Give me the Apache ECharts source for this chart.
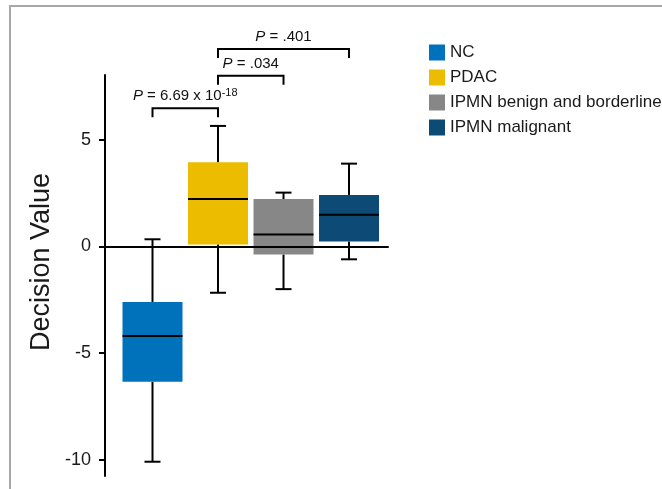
<!DOCTYPE html>
<html>
<head>
<meta charset="utf-8">
<script src="https://cdn.jsdelivr.net/npm/echarts@6/dist/echarts.min.js"></script>
<style>html,body{margin:0;padding:0;background:#fff}#c{width:662px;height:489px}</style>
</head>
<body>
<div id="c"></div>
<script>
// ---- data ----
const categories = ['NC', 'PDAC', 'IPMN benign and borderline', 'IPMN malignant'];
const colors = ['#0072bc', '#ebbc00', '#878787', '#0d4a75'];
// [min, Q1, median, Q3, max]
const nc = [-10.1, -6.35, -4.2, -2.6, 0.34];
const pdac = [-2.17, 0.1, 2.23, 3.95, 5.66];
const ipmnBenign = [-2.0, -0.37, 0.57, 2.23, 2.53];
const ipmnMalignant = [-0.6, 0.23, 1.49, 2.42, 3.89];
const boxValues = [nc, pdac, ipmnBenign, ipmnMalignant];
const yTicks = [-10, -5, 0, 5];
// comparisons: [fromCategoryIndex, toCategoryIndex, bracketLevel]
const comparisons = [[0, 1, 6.49], [1, 2, 8.02], [1, 3, 9.27]];
const pLabels = ['{i|P} = 6.69 x 10{sup|-18}', '{i|P} = .034', '{i|P} = .401'];

const FONT = 'Liberation Sans, Arial, sans-serif';
const chart = echarts.init(document.getElementById('c'), null, {renderer: 'canvas'});

const boxSeries = categories.map((name, i) => ({
  name: name,
  type: 'custom',
  z: 2,
  itemStyle: {color: colors[i]},
  encode: {x: 0, y: [1, 2, 3, 4, 5]},
  data: [[i + 1].concat(boxValues[i])],
  renderItem: function (params, api) {
    const x = api.value(0);
    const cx = api.coord([x, 0])[0];
    const yMin = api.coord([x, api.value(1)])[1];
    const yQ1 = api.coord([x, api.value(2)])[1];
    const yMed = api.coord([x, api.value(3)])[1];
    const yQ3 = api.coord([x, api.value(4)])[1];
    const yMax = api.coord([x, api.value(5)])[1];
    const hw = 30, cap = 8;
    const ls = {stroke: '#000', lineWidth: 2};
    return {
      type: 'group',
      children: [
        {type: 'line', shape: {x1: cx, y1: yMax, x2: cx, y2: yQ3}, style: ls},
        {type: 'line', shape: {x1: cx, y1: yQ1, x2: cx, y2: yMin}, style: ls},
        {type: 'line', shape: {x1: cx - cap, y1: yMax, x2: cx + cap, y2: yMax}, style: ls},
        {type: 'line', shape: {x1: cx - cap, y1: yMin, x2: cx + cap, y2: yMin}, style: ls},
        {type: 'rect', shape: {x: cx - hw, y: yQ3, width: 2 * hw, height: yQ1 - yQ3}, style: {fill: api.visual('color')}},
        {type: 'line', shape: {x1: cx - hw, y1: yMed, x2: cx + hw, y2: yMed}, style: ls}
      ]
    };
  }
}));

const bracketSeries = {
  name: 'comparisons',
  type: 'custom',
  clip: false,
  silent: true,
  z: 3,
  encode: {x: [0, 1], y: 2},
  data: comparisons.map((c, k) => [c[0] + 1, c[1] + 1, c[2], k]),
  renderItem: function (params, api) {
    const p1 = api.coord([api.value(0), api.value(2)]);
    const p2 = api.coord([api.value(1), api.value(2)]);
    const drop = 9;
    const ls = {stroke: '#000', lineWidth: 2, fill: null};
    return {
      type: 'group',
      children: [
        {type: 'polyline', shape: {points: [[p1[0], p1[1] + drop], [p1[0], p1[1]], [p2[0], p2[1]], [p2[0], p2[1] + drop]]}, style: ls},
        {type: 'text', x: (p1[0] + p2[0]) / 2, y: p1[1] - 3,
          style: {
            text: pLabels[api.value(3)],
            align: 'center', verticalAlign: 'bottom',
            fill: '#111', fontSize: 15, fontFamily: FONT,
            rich: {
              i: {fontStyle: 'italic', fontSize: 15, fontFamily: FONT, fill: '#111', lineHeight: 18},
              sup: {fontSize: 11, fontFamily: FONT, fill: '#111', verticalAlign: 'top', lineHeight: 18, padding: [0, 0, 8, 0]}
            }
          }}
      ]
    };
  }
};

chart.setOption({
  animation: false,
  backgroundColor: '#fff',
  grid: {left: 105, right: 274, top: 75, bottom: 13},
  legend: {
    data: categories,
    orient: 'vertical',
    left: 429, top: 44,
    padding: 0,
    itemWidth: 16, itemHeight: 16, itemGap: 8,
    icon: 'rect',
    textStyle: {fontSize: 17, fontFamily: FONT, color: '#1a1a1a'}
  },
  xAxis: {
    type: 'value', min: 0.275, max: 4.595, z: 5,
    axisLine: {show: true, onZero: true, lineStyle: {color: '#000', width: 2}},
    axisTick: {show: false}, axisLabel: {show: false}, splitLine: {show: false}
  },
  yAxis: {
    type: 'value', min: -10.77, max: 8.05,
    axisLine: {show: true, lineStyle: {color: '#000', width: 2}},
    axisTick: {show: true, length: 6, customValues: yTicks, lineStyle: {color: '#000', width: 2}},
    axisLabel: {customValues: yTicks, fontSize: 18, fontFamily: FONT, color: '#1a1a1a', margin: 14},
    splitLine: {show: false}
  },
  graphic: [
    {type: 'rect', z: 100, silent: true, shape: {x: 10, y: 6, width: 720, height: 520}, style: {fill: null, stroke: '#a8a8a8', lineWidth: 2}},
    {type: 'text', x: 42, y: 262, rotation: Math.PI / 2,
      style: {text: 'Decision Value', fontSize: 27, fontFamily: FONT, fill: '#1a1a1a', align: 'center', verticalAlign: 'middle'}}
  ],
  series: boxSeries.concat([bracketSeries])
});
</script>
</body>
</html>
